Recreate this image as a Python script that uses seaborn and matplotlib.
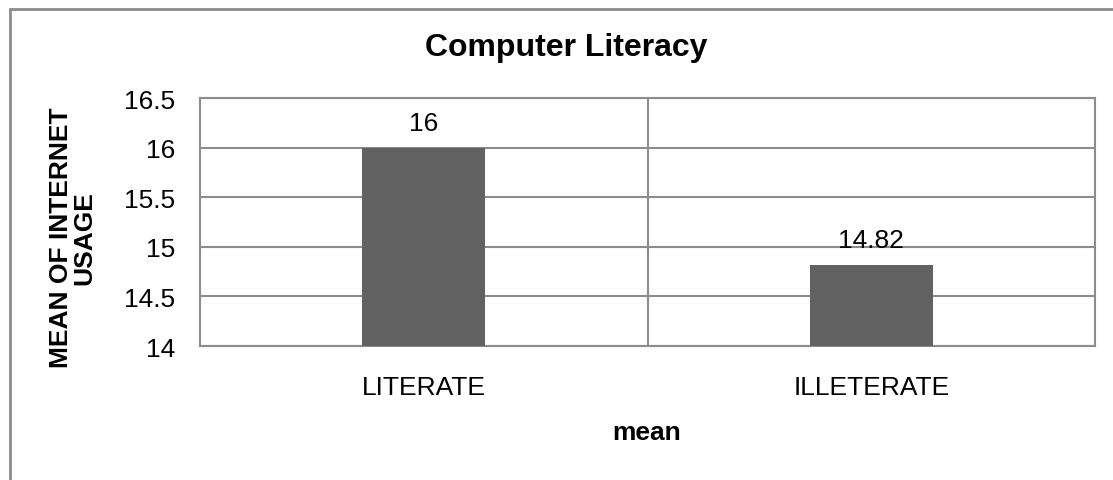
import matplotlib
matplotlib.use("Agg")
import matplotlib.pyplot as plt
from matplotlib.ticker import FixedLocator
from matplotlib.lines import Line2D
import seaborn as sns
import pandas as pd

categories = ["LITERATE", "ILLETERATE"]
values = [16, 14.82]
value_labels = ["16", "14.82"]
yticks = [14, 14.5, 15, 15.5, 16, 16.5]
ytick_labels = ["14", "14.5", "15", "15.5", "16", "16.5"]
title = "Computer Literacy"
xlabel = "mean"
ylabel = "MEAN OF INTERNET\nUSAGE"

sns.set_theme(style="white")
plt.rcParams["font.family"] = ["Liberation Sans", "DejaVu Sans"]
plt.rcParams["text.color"] = "black"

W, H = 1113, 481
fig = plt.figure(figsize=(W / 100, H / 100), dpi=100)
fig.patch.set_facecolor("white")
ax = fig.add_axes([200 / W, 1 - 347 / H, (1095 - 200) / W, (347 - 99) / H])

df = pd.DataFrame({"cat": categories, "val": values})
grid_c = "#8c8c8c"
sns.barplot(data=df, x="cat", y="val", color="#626262", saturation=1,
            width=0.275, ax=ax, zorder=3, edgecolor="none")

ax.set_ylim(14, 16.5)
ax.set_xlim(-0.5, 1.5)
ax.set_yticks(yticks)
ax.set_yticklabels(ytick_labels)
ax.xaxis.set_minor_locator(FixedLocator([0.5]))
ax.grid(False)
ax.yaxis.grid(True, which="major", color=grid_c, linewidth=1.5, zorder=0)
ax.xaxis.grid(True, which="minor", color=grid_c, linewidth=1.5, zorder=0)
ax.set_axisbelow(True)
for s in ax.spines.values():
    s.set_visible(True)
    s.set_color(grid_c)
    s.set_linewidth(1.5)
ax.tick_params(axis="both", which="both", length=0, labelsize=19, colors="black")
ax.tick_params(axis="y", pad=18)
ax.tick_params(axis="x", pad=21)

for i, (v, lab) in enumerate(zip(values, value_labels)):
    ax.annotate(lab, xy=(i, v), xytext=(0, 17.5), textcoords="offset points",
                ha="center", va="center", fontsize=19, color="black", zorder=5)

ax.set_xlabel("")
ax.set_ylabel("")
fig.text(647 / W, 1 - 433 / H, xlabel, ha="center", va="center",
         fontsize=19, fontweight="bold", color="black")
fig.text(73 / W, 1 - 238 / H, ylabel, ha="center", va="center", rotation=90,
         fontsize=19, fontweight="bold", linespacing=0.95, color="black")
fig.text(566 / W, 1 - 48 / H, title, ha="center", va="center",
         fontsize=23, fontweight="bold", color="black")

# outer chart border (extends past right and bottom edges)
fig.add_artist(Line2D([10 / W, 1.0], [1 - 10 / H, 1 - 10 / H], transform=fig.transFigure,
                      color="#8c8c8c", linewidth=2))
fig.add_artist(Line2D([10 / W, 10 / W], [1 - 10 / H, 0.0], transform=fig.transFigure,
                      color="#8c8c8c", linewidth=2))

fig.savefig("out.png", dpi=100, facecolor="white")
